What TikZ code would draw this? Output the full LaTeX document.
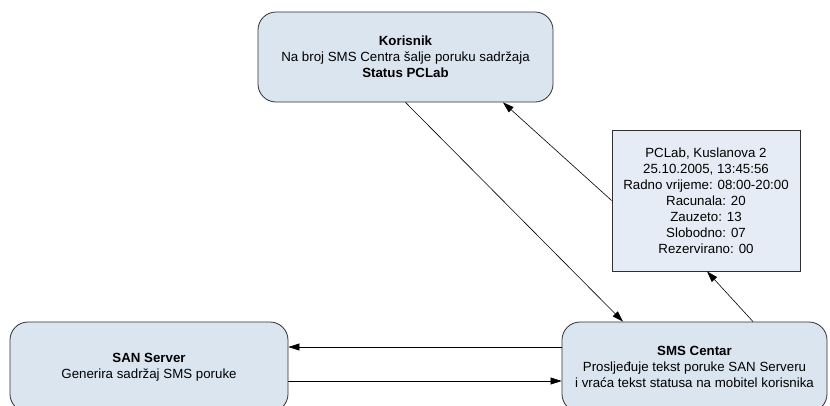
\documentclass[tikz,border=0pt]{standalone}
\usepackage{fontspec}
\setmainfont{Liberation Sans}
\usetikzlibrary{arrows.meta,calc}

\definecolor{boxblue}{HTML}{DAE5F0}
\definecolor{noteblue}{HTML}{E6ECF6}
\definecolor{boxedge}{HTML}{303030}

\tikzset{
  roundbox/.style={draw=boxedge, fill=boxblue, line width=0.8pt, rounded corners=18pt, align=center, inner sep=0pt},
  notebox/.style={draw=boxedge, fill=noteblue, line width=0.8pt, align=center, inner sep=0pt},
  arr/.style={draw=black, line width=0.6pt, -{Triangle[length=11pt,width=7pt]}},
}

\begin{document}
\begin{tikzpicture}[x=1pt, y=-1pt, font=\fontsize{13.3}{16}\selectfont]
\useasboundingbox (0,0) rectangle (830,405);

% top
\node[roundbox, minimum width=295pt, minimum height=90pt] (kor) at (405.5,57)
  {\textbf{Korisnik}\\Na broj SMS Centra šalje poruku sadržaja\\\textbf{Status PCLab}};

% status message
\node[notebox, minimum width=188pt, minimum height=141pt] (info) at (706,200.5)
  {PCLab, Kuslanova 2\\25.10.2005, 13:45:56\\Radno vrijeme: 08:00-20:00\\Racunala: 20\\Zauzeto: 13\\Slobodno: 07\\Rezervirano: 00};

% bottom left
\node[roundbox, minimum width=278pt, minimum height=90pt] (san) at (149,367)
  {\textbf{SAN Server}\\Generira sadržaj SMS poruke};

% bottom right
\node[roundbox, minimum width=265pt, minimum height=90pt] (sms) at (694.5,367)
  {\textbf{SMS Centar}\\Prosljeđuje tekst poruke SAN Serveru\\i vraća tekst statusa na mobitel korisnika};

\draw[arr] (kor.south) -- ([xshift=-71.5pt]sms.north);
\draw[arr] (info.west) -- ([xshift=97.5pt]kor.south);
\draw[arr] ([xshift=58.5pt]sms.north) -- ([xshift=1pt]info.south);

\draw[arr] ([yshift=20pt]sms.west) -- ([yshift=20pt]san.east);
\draw[arr] ([yshift=-14pt]san.east) -- ([yshift=-14pt]sms.west);

\end{tikzpicture}
\end{document}
